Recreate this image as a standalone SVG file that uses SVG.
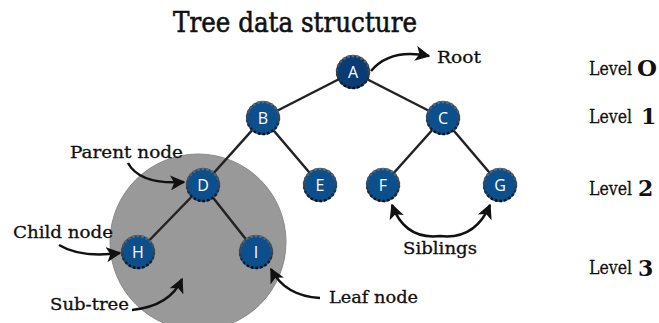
<svg xmlns="http://www.w3.org/2000/svg" width="659" height="323" viewBox="0 0 659 323">
<style>
.lbl{font-family:"DejaVu Serif","Liberation Serif",serif;font-size:16px;fill:#111;stroke:#111;stroke-width:0.3}
.ttl{font-family:"DejaVu Serif","Liberation Serif",serif;font-size:27px;fill:#111;stroke:#111;stroke-width:0.6}
.lvl{font-family:"DejaVu Serif","Liberation Serif",serif;font-size:18px;fill:#111;stroke:#111;stroke-width:0.3}
.num{font-family:"DejaVu Serif","Liberation Serif",serif;font-size:22px;font-weight:bold;fill:#111}
.node circle.f{fill:#0c4f8d}
.node circle.r{fill:none;stroke:url(#ring);stroke-width:2.5;stroke-dasharray:2.6 2}
.node text{font-family:"Open Sans","DejaVu Sans",sans-serif;font-size:16px;fill:#fff;text-anchor:middle}
.edge{stroke:#222;stroke-width:2.5}
.arr{fill:none;stroke:#111;stroke-width:2.5}
</style>
<defs>
<linearGradient id="ring" x1="0" y1="0" x2="0" y2="1">
<stop offset="0" stop-color="#6a6a6a"/>
<stop offset="0.5" stop-color="#444"/>
<stop offset="1" stop-color="#0a0a0a"/>
</linearGradient>
<marker id="ah" viewBox="0 0 10 10" refX="9" refY="5" markerWidth="15" markerHeight="15" markerUnits="userSpaceOnUse" orient="auto-start-reverse">
<path d="M0,0 L10,5 L0,10 L2.5,5 z" fill="#111"/>
</marker>
</defs>
<rect width="659" height="323" fill="#fff"/>
<text class="ttl" x="173" y="32" textLength="244" lengthAdjust="spacingAndGlyphs">Tree data structure</text>
<circle id="subtree" cx="198" cy="242" r="88" fill="#999" stroke="#8a8a8a" stroke-width="1"/>
<g id="connectors">
<line class="edge" x1="353" y1="72" x2="263" y2="118"/>
<line class="edge" x1="353" y1="72" x2="443" y2="118"/>
<line class="edge" x1="263" y1="118" x2="203" y2="185"/>
<line class="edge" x1="263" y1="118" x2="320" y2="185"/>
<line class="edge" x1="443" y1="118" x2="383" y2="185"/>
<line class="edge" x1="443" y1="118" x2="500" y2="185"/>
<line class="edge" x1="203" y1="185" x2="138" y2="252"/>
<line class="edge" x1="203" y1="185" x2="256" y2="252"/>
<path class="arr" d="M371,71 Q390,48 429,56" marker-end="url(#ah)"/>
<path class="arr" d="M128,163 Q140,185 184,182" marker-end="url(#ah)"/>
<path class="arr" d="M59,245 Q80,258 120,253" marker-end="url(#ah)"/>
<path class="arr" d="M132,310 Q170,306 182,279" marker-end="url(#ah)"/>
<path class="arr" d="M320,298 Q285,296 271,269" marker-end="url(#ah)"/>
<path class="arr" d="M392,205 Q405,240 440,236 Q475,240 490,205" marker-start="url(#ah)" marker-end="url(#ah)"/>
</g>
<g id="node-A" class="node"><circle class="f" cx="353" cy="72" r="17" style="fill:#0a3b72"/><circle class="r" cx="353" cy="72" r="16"/><text x="353" y="78">A</text></g>
<g id="node-B" class="node"><circle class="f" cx="263" cy="118" r="17"/><circle class="r" cx="263" cy="118" r="16"/><text x="263" y="124">B</text></g>
<g id="node-C" class="node"><circle class="f" cx="443" cy="118" r="17"/><circle class="r" cx="443" cy="118" r="16"/><text x="443" y="124">C</text></g>
<g id="node-D" class="node"><circle class="f" cx="203" cy="185" r="17"/><circle class="r" cx="203" cy="185" r="16"/><text x="203" y="191">D</text></g>
<g id="node-E" class="node"><circle class="f" cx="320" cy="185" r="17"/><circle class="r" cx="320" cy="185" r="16"/><text x="320" y="191">E</text></g>
<g id="node-F" class="node"><circle class="f" cx="383" cy="185" r="17"/><circle class="r" cx="383" cy="185" r="16"/><text x="383" y="191">F</text></g>
<g id="node-G" class="node"><circle class="f" cx="500" cy="185" r="17"/><circle class="r" cx="500" cy="185" r="16"/><text x="500" y="191">G</text></g>
<g id="node-H" class="node"><circle class="f" cx="138" cy="252" r="17"/><circle class="r" cx="138" cy="252" r="16"/><text x="138" y="258">H</text></g>
<g id="node-I" class="node"><circle class="f" cx="256" cy="252" r="17"/><circle class="r" cx="256" cy="252" r="16"/><text x="256" y="258">I</text></g>
<g id="labels">
<text class="lbl" x="437" y="63" textLength="44" lengthAdjust="spacingAndGlyphs">Root</text>
<text class="lbl" x="70" y="158" textLength="113" lengthAdjust="spacingAndGlyphs">Parent node</text>
<text class="lbl" x="13" y="238" textLength="100" lengthAdjust="spacingAndGlyphs">Child node</text>
<text class="lbl" x="50" y="310" textLength="79" lengthAdjust="spacingAndGlyphs">Sub-tree</text>
<text class="lbl" x="329" y="303" textLength="89" lengthAdjust="spacingAndGlyphs">Leaf node</text>
<text class="lbl" x="403" y="254" textLength="74" lengthAdjust="spacingAndGlyphs">Siblings</text>
<text class="lvl" x="589" y="75" textLength="43" lengthAdjust="spacingAndGlyphs">Level</text><text class="num" x="637" y="76" textLength="20" lengthAdjust="spacingAndGlyphs">O</text>
<text class="lvl" x="589" y="123" textLength="43" lengthAdjust="spacingAndGlyphs">Level</text><text class="num" x="641" y="124">1</text>
<text class="lvl" x="589" y="195" textLength="43" lengthAdjust="spacingAndGlyphs">Level</text><text class="num" x="638" y="196">2</text>
<text class="lvl" x="589" y="274" textLength="43" lengthAdjust="spacingAndGlyphs">Level</text><text class="num" x="638" y="276">3</text>
</g>
</svg>
